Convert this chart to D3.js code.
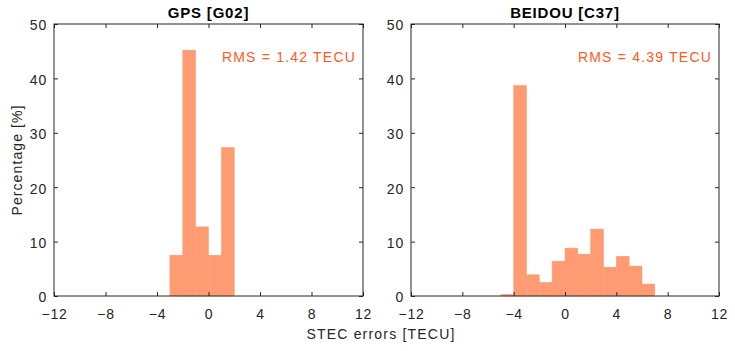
<!DOCTYPE html>
<html><head><meta charset="utf-8">
<script src="https://cdn.jsdelivr.net/npm/d3@7"></script>
<style>body{margin:0;background:#fff}text{font-family:"Liberation Sans",Arial,sans-serif}</style>
</head><body><svg id="c" width="735" height="351"></svg>
<script>
const binEdgesGPS = [-3,-2,-1,0,1,2];
const valuesGPS = [7.5,45.2,12.7,7.5,27.3];
const binEdgesBDS = [-5,-4,-3,-2,-1,0,1,2,3,4,5,6,7];
const valuesBDS = [0.3,38.7,3.9,2.5,6.4,8.8,7.7,12.3,5.3,7.3,5.5,2.2];
const titles = ["GPS [G02]","BEIDOU [C37]"];
const rmsLabels = ["RMS = 1.42 TECU","RMS = 4.39 TECU"];
const xTicks = [-12,-8,-4,0,4,8,12];
const yTicks = [0,10,20,30,40,50];

(function(){
const svg = d3.select("#c");
const panels = [
  {x0:54, x1:363, edges:binEdgesGPS, vals:valuesGPS},
  {x0:411, x1:719, edges:binEdgesBDS, vals:valuesBDS}
];
const yTop=24, yBot=296;
const fmt = d => d<0 ? "\u2212"+Math.abs(d) : String(d);
panels.forEach((p,i)=>{
  const x = d3.scaleLinear().domain([-12,12]).range([p.x0,p.x1]);
  const y = d3.scaleLinear().domain([0,50]).range([yBot,yTop]);
  const g = svg.append("g");
  const bins = p.vals.map((v,k)=>({a:p.edges[k],b:p.edges[k+1],v}));
  g.selectAll("rect.bar").data(bins).join("rect")
    .attr("x",d=>x(d.a)).attr("width",d=>x(d.b)-x(d.a))
    .attr("y",d=>y(d.v)).attr("height",d=>y(0)-y(d.v))
    .attr("fill","#ff9b72").attr("stroke","#ff9b72").attr("stroke-width",0.5);
  const ax = (gen, tr) => {
    const a = g.append("g").attr("transform",tr).call(gen);
    a.select(".domain").remove();
    a.selectAll("line").attr("stroke","#262626");
    a.selectAll("text").attr("fill","#262626").style("font-size","14px").style("letter-spacing","0.8px");
    return a;
  };
  ax(d3.axisBottom(x).tickValues(xTicks).tickSize(-4).tickPadding(13).tickFormat(fmt),`translate(0,${yBot})`);
  ax(d3.axisTop(x).tickValues(xTicks).tickSize(-4).tickFormat(""),`translate(0,${yTop})`);
  ax(d3.axisLeft(y).tickValues(yTicks).tickSize(-4).tickPadding(7),`translate(${p.x0},0)`)
    .selectAll("text").attr("dy","0.42em");
  ax(d3.axisRight(y).tickValues(yTicks).tickSize(-4).tickFormat(""),`translate(${p.x1},0)`);
  g.append("rect").attr("x",p.x0).attr("y",yTop).attr("width",p.x1-p.x0).attr("height",yBot-yTop)
    .attr("fill","none").attr("stroke","#262626").attr("stroke-width",1);
  g.append("text").attr("x",(p.x0+p.x1)/2).attr("y",18).attr("text-anchor","middle")
    .style("font-size","15px").style("font-weight","bold").style("letter-spacing","0.8px")
    .attr("fill","#000").text(titles[i]);
  g.append("text").attr("x",p.x1-7).attr("y",62).attr("text-anchor","end")
    .style("font-size","14px").style("letter-spacing","1.2px").attr("fill","#ff5a1f").text(rmsLabels[i]);
});
svg.append("text").attr("x",381).attr("y",339).attr("text-anchor","middle")
  .style("font-size","14px").style("letter-spacing","1.2px").attr("fill","#262626").text("STEC errors [TECU]");
svg.append("text").attr("transform","translate(22,160) rotate(-90)").attr("text-anchor","middle")
  .style("font-size","14px").style("letter-spacing","1.1px").attr("fill","#262626").text("Percentage [%]");
})();
</script></body></html>
